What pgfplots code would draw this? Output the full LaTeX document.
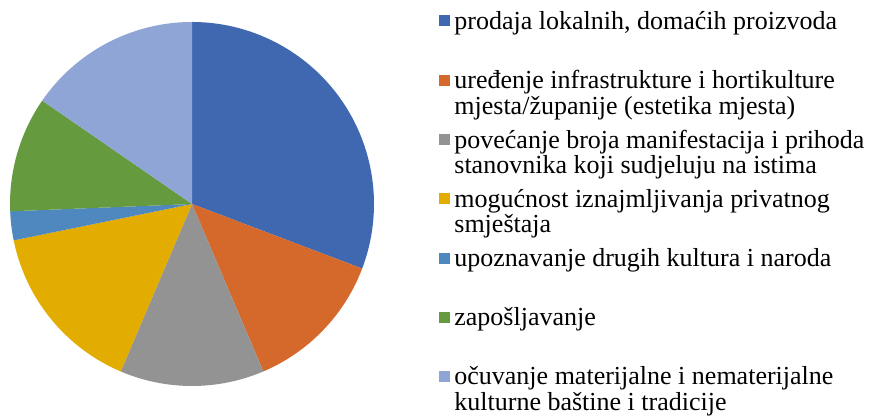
\documentclass[border=0pt]{standalone}
\usepackage{pgfplots}
\pgfplotsset{compat=1.18}
\usepackage{pgfplotstable}
\usepackage{fontspec}
\setmainfont{Liberation Serif}

\definecolor{c0}{HTML}{4068B0}
\definecolor{c1}{HTML}{D5692B}
\definecolor{c2}{HTML}{939393}
\definecolor{c3}{HTML}{E2AC00}
\definecolor{c4}{HTML}{4E88BE}
\definecolor{c5}{HTML}{659A3F}
\definecolor{c6}{HTML}{8FA5D6}

% number of answers per category
\pgfplotstableread{
count
12
5
5
6
1
4
6
}\piedata

\begin{document}
\begin{tikzpicture}
\pgfplotstablegetrowsof{\piedata}
\pgfmathtruncatemacro{\nrows}{\pgfplotsretval-1}
\xdef\total{0}
\foreach \i in {0,...,\nrows} {
    \pgfplotstablegetelem{\i}{count}\of\piedata
    \pgfmathsetmacro{\t}{\total+\pgfplotsretval}
    \global\let\total\t
}
\begin{axis}[
        x=1pt, y=1pt,
        xmin=0, xmax=441.5, ymin=0, ymax=208,
        hide axis, clip=false,
        % square beside the first of the two lines of each entry
        legend image code/.code={
            \path[draw=none, fill=none] (0pt,0pt) -- (6.5pt,0pt);
            \fill[#1, draw=none] (0pt,14.25pt) rectangle (5.5pt,19.75pt);},
        legend style={
                draw=none, fill=none,
                at={(axis cs:219.5,203.5)}, anchor=north west,
                font=\fontsize{13}{12.75}\selectfont,
                cells={anchor=base west, align=left},
                row sep=4.3pt,
                inner sep=0pt,
                nodes={inner sep=1pt},
            },
    ]
    \path (axis cs:0,0) rectangle (axis cs:441.5,208);
    \xdef\cum{0}
    \foreach \i in {0,...,\nrows} {
        \pgfplotstablegetelem{\i}{count}\of\piedata
        \pgfmathsetmacro{\a}{90-360*\cum/\total}
        \pgfmathsetmacro{\b}{90-360*(\cum+\pgfplotsretval)/\total}
        \edef\temp{\noexpand\fill[c\i] (axis cs:96,106) -- ++(\a:91pt)
            arc[start angle=\a, end angle=\b, radius=91pt] -- cycle;}
        \temp
        \pgfmathsetmacro{\n}{\cum+\pgfplotsretval}
        \global\let\cum\n
    }
    \addlegendimage{c0}
    \addlegendentry{prodaja lokalnih, domaćih proizvoda\\\strut}
    \addlegendimage{c1}
    \addlegendentry{uređenje infrastrukture i hortikulture\\mjesta/županije (estetika mjesta)}
    \addlegendimage{c2}
    \addlegendentry{povećanje broja manifestacija i prihoda\\stanovnika koji sudjeluju na istima}
    \addlegendimage{c3}
    \addlegendentry{mogućnost iznajmljivanja privatnog\\smještaja}
    \addlegendimage{c4}
    \addlegendentry{upoznavanje drugih kultura i naroda\\\strut}
    \addlegendimage{c5}
    \addlegendentry{zapošljavanje\\\strut}
    \addlegendimage{c6}
    \addlegendentry{očuvanje materijalne i nematerijalne\\kulturne baštine i tradicije}
\end{axis}
\end{tikzpicture}
\end{document}
